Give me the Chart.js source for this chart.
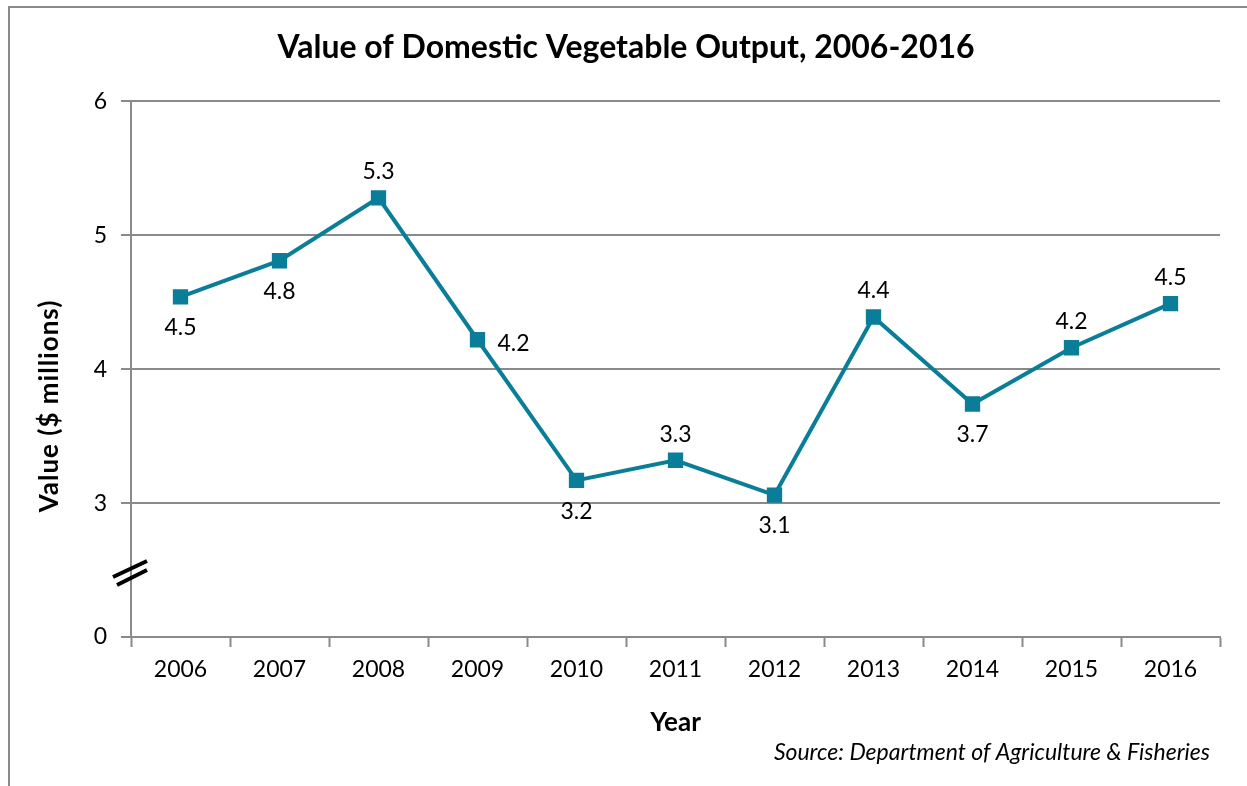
<!DOCTYPE html>
<html>
<head>
<meta charset="utf-8">
<title>Value of Domestic Vegetable Output</title>
<script src="https://cdn.jsdelivr.net/npm/chart.js@4"></script>
<style>
  html, body { margin: 0; padding: 0; background: #fff; }
  #wrap { width: 1247px; height: 786px; position: relative; }
</style>
</head>
<body>
<div id="wrap"><canvas id="chart"></canvas></div>
<script>
const years = ['2006', '2007', '2008', '2009', '2010', '2011', '2012', '2013', '2014', '2015', '2016'];
const output = [4.54, 4.81, 5.28, 4.22, 3.17, 3.32, 3.06, 4.39, 3.74, 4.16, 4.49];
const yTicks = [2, 3, 4, 5, 6];
const yTickText = ['0', '3', '4', '5', '6'];

const FONT = 'Lato, "Noto Sans", sans-serif';
const teal = '#0a7d98';
const gray = '#8a8a8a';

// where each value label sits relative to its marker
const labelSide = ['below', 'below', 'above', 'right', 'below', 'above', 'below', 'above', 'below', 'above', 'above'];

const ctx = document.getElementById('chart').getContext('2d');

const extras = {
    id: 'extras',
    beforeDraw(chart) {
        const c = chart.ctx;
        c.save();
        c.fillStyle = '#fff';
        c.fillRect(0, 0, chart.width, chart.height);
        // outer frame
        c.strokeStyle = gray;
        c.lineWidth = 2;
        c.beginPath();
        c.moveTo(9, chart.height);
        c.lineTo(9, 7);
        c.lineTo(chart.width, 7);
        c.stroke();
        c.restore();
    },
    afterDraw(chart) {
        const c = chart.ctx;
        const y = chart.scales.y;
        const meta = chart.getDatasetMeta(0);
        c.save();

        // axis break marks
        const ax = chart.chartArea.left;
        const by = y.getPixelForValue(2.5);
        c.strokeStyle = '#000';
        c.lineWidth = 4;
        c.beginPath();
        c.moveTo(ax - 18, by + 7);
        c.lineTo(ax + 16, by - 9);
        c.moveTo(ax - 14, by + 15);
        c.lineTo(ax + 16, by);
        c.stroke();

        // y axis title
        c.fillStyle = '#000';
        c.save();
        c.translate(50, 406);
        c.rotate(-Math.PI / 2);
        c.font = 'bold 26px ' + FONT;
        c.textAlign = 'center';
        c.textBaseline = 'middle';
        c.letterSpacing = '1px';
        c.fillText('Value ($ millions)', 0, 0);
        c.restore();

        // value labels
        c.font = '23px ' + FONT;
        c.textBaseline = 'middle';
        meta.data.forEach((pt, i) => {
            const txt = output[i].toFixed(1);
            let x = pt.x, yy = pt.y;
            c.textAlign = 'center';
            if (labelSide[i] === 'below') yy += 31;
            else if (labelSide[i] === 'above') yy -= 26;
            else { x += 20; c.textAlign = 'left'; yy += 4; }
            c.fillText(txt, x, yy);
        });

        // source note
        c.font = 'italic 23px ' + FONT;
        c.textAlign = 'right';
        c.fillText('Source: Department of Agriculture & Fisheries', 1210, 753);
        c.restore();
    }
};

new Chart(ctx, {
    type: 'line',
    data: {
        labels: years,
        datasets: [{
            label: 'Value',
            data: output,
            borderColor: teal,
            backgroundColor: teal,
            borderWidth: 4,
            pointStyle: 'rect',
            pointRadius: 8,
            pointHoverRadius: 8,
            tension: 0
        }]
    },
    options: {
        responsive: true,
        maintainAspectRatio: false,
        animation: false,
        events: [],
        layout: { padding: { left: 32, right: 27, top: 0, bottom: 0 } },
        plugins: {
            legend: { display: false },
            tooltip: { enabled: false },
            title: {
                display: true,
                text: 'Value of Domestic Vegetable Output, 2006-2016',
                color: '#000',
                font: { family: FONT, size: 32, weight: 'bold', lineHeight: 1.2 },
                padding: { top: 28, bottom: 35 }
            }
        },
        scales: {
            x: {
                offset: true,
                grid: {
                    offset: true,
                    drawOnChartArea: false,
                    tickLength: 10,
                    tickColor: gray,
                    tickWidth: 2
                },
                border: { color: gray, width: 2 },
                ticks: {
                    color: '#000',
                    padding: 9,
                    font: { family: FONT, size: 23 }
                },
                title: {
                    display: true,
                    text: 'Year',
                    color: '#000',
                    font: { family: FONT, size: 26, weight: 'bold' },
                    padding: { top: 0, bottom: 48 }
                },
                afterFit(scale) { scale.height = 149; }
            },
            y: {
                min: 2,
                max: 6,
                afterBuildTicks(scale) {
                    scale.ticks = yTicks.map(v => ({ value: v }));
                },
                grid: {
                    color: ctx => ctx.tick && ctx.tick.value === 2 ? 'rgba(0,0,0,0)' : gray,
                    lineWidth: 2,
                    tickLength: 10,
                    tickColor: gray,
                    tickWidth: 2
                },
                border: { color: gray, width: 2 },
                ticks: {
                    color: '#000',
                    padding: 14,
                    font: { family: FONT, size: 23 },
                    callback: (v) => yTickText[yTicks.indexOf(v)]
                },
                afterFit(scale) { scale.width = 99; }
            }
        }
    },
    plugins: [extras]
});
</script>
</body>
</html>
